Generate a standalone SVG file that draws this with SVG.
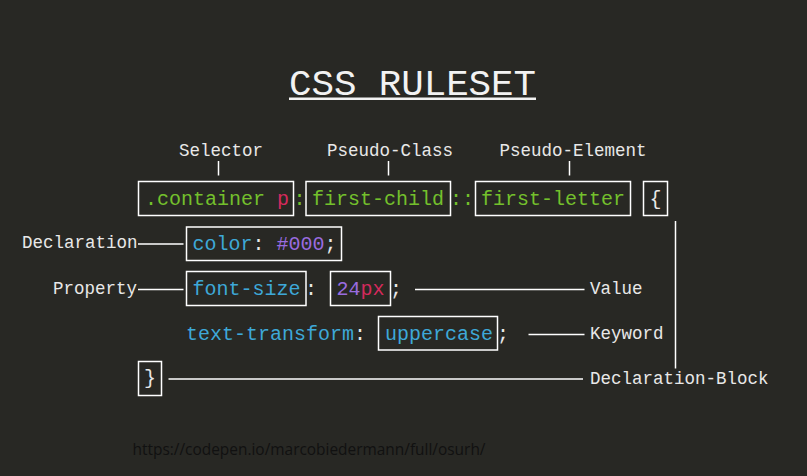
<svg xmlns="http://www.w3.org/2000/svg" width="807" height="476" viewBox="0 0 807 476">
<style>
.code{font-family:"Liberation Mono","DejaVu Sans Mono",monospace;font-size:20px}
.lbl{font-family:"Liberation Mono","DejaVu Sans Mono",monospace;font-size:17.5px;fill:#e8e8e8}
.box{fill:none;stroke:#ffffff;stroke-width:1.5}
.ln{stroke:#ffffff;stroke-width:1.5;fill:none}
.g{fill:#74c02c}.b{fill:#3ea8d8}.p{fill:#9a6ce0}.r{fill:#d42a5c}.w{fill:#e8e8e8}
</style>
<rect width="807" height="476" fill="#282824"/>
<g id="title">
<text x="289" y="95" font-family="Liberation Mono, monospace" font-size="37.5" fill="#f2f2f2" textLength="247">CSS RULESET</text>
<rect x="289" y="97.5" width="247" height="2.5" fill="#f2f2f2"/>
</g>
<g id="labels">
<text class="lbl" x="221" y="156" text-anchor="middle">Selector</text>
<text class="lbl" x="390" y="156" text-anchor="middle">Pseudo-Class</text>
<text class="lbl" x="573" y="156" text-anchor="middle">Pseudo-Element</text>
<text class="lbl" x="137.5" y="248" text-anchor="end">Declaration</text>
<text class="lbl" x="137" y="293.5" text-anchor="end">Property</text>
<text class="lbl" x="590" y="293.5">Value</text>
<text class="lbl" x="590" y="338.5">Keyword</text>
<text class="lbl" x="590" y="383.5">Declaration-Block</text>
</g>
<g id="selector">
<rect class="box" x="138.5" y="181.5" width="155" height="34"/>
<text class="code" x="145" y="205"><tspan class="g">.container </tspan><tspan class="r">p</tspan></text>
<text class="code g" x="293.5" y="205">:</text>
</g>
<g id="pseudo-class">
<rect class="box" x="306" y="181.5" width="144.5" height="34"/>
<text class="code g" x="312" y="205">first-child</text>
<text class="code g" x="450" y="205">::</text>
</g>
<g id="pseudo-element">
<rect class="box" x="475.5" y="181.5" width="155" height="34"/>
<text class="code g" x="481" y="205">first-letter</text>
</g>
<g id="open-brace">
<rect class="box" x="643.5" y="181.5" width="24" height="34"/>
<text class="code w" x="649.5" y="205">{</text>
</g>
<g id="declaration">
<rect class="box" x="186.5" y="227" width="155" height="33.5"/>
<text class="code" x="192.5" y="249.5"><tspan class="b">color</tspan><tspan class="w">: </tspan><tspan class="p">#000</tspan><tspan class="w">;</tspan></text>
</g>
<g id="property">
<rect class="box" x="186.5" y="271.5" width="119.5" height="34"/>
<text class="code b" x="192.5" y="294.5">font-size</text>
<text class="code w" x="305" y="294.5">:</text>
</g>
<g id="value">
<rect class="box" x="330.5" y="271.5" width="60" height="34"/>
<text class="code" x="336.5" y="294.5"><tspan class="p">24</tspan><tspan class="r">px</tspan></text>
<text class="code w" x="390" y="294.5">;</text>
</g>
<g id="keyword">
<text class="code" x="186" y="339.5"><tspan class="b">text-transform</tspan><tspan class="w">:</tspan></text>
<rect class="box" x="378.5" y="316.5" width="119" height="33.5"/>
<text class="code b" x="385" y="339.5">uppercase</text>
<text class="code w" x="497" y="339.5">;</text>
</g>
<g id="close-brace">
<rect class="box" x="138.5" y="361.5" width="23" height="34"/>
<text class="code w" x="144" y="384">}</text>
</g>
<g id="connectors">
<line class="ln" x1="218.5" y1="161" x2="218.5" y2="175.5"/>
<line class="ln" x1="388.5" y1="161" x2="388.5" y2="175.5"/>
<line class="ln" x1="569.5" y1="161" x2="569.5" y2="175.5"/>
<line class="ln" x1="675.5" y1="221" x2="675.5" y2="368.5"/>
<line class="ln" x1="138" y1="244" x2="183.5" y2="244"/>
<line class="ln" x1="138" y1="289.5" x2="183.5" y2="289.5"/>
<line class="ln" x1="415" y1="289.5" x2="584.5" y2="289.5"/>
<line class="ln" x1="528.5" y1="334.5" x2="584.5" y2="334.5"/>
<line class="ln" x1="168.5" y1="379" x2="583" y2="379"/>
</g>
<text x="132.5" y="455" font-family="Open Sans, Liberation Sans, sans-serif" font-size="16" fill="#111111" textLength="353" lengthAdjust="spacingAndGlyphs">https://codepen.io/marcobiedermann/full/osurh/</text>
</svg>
